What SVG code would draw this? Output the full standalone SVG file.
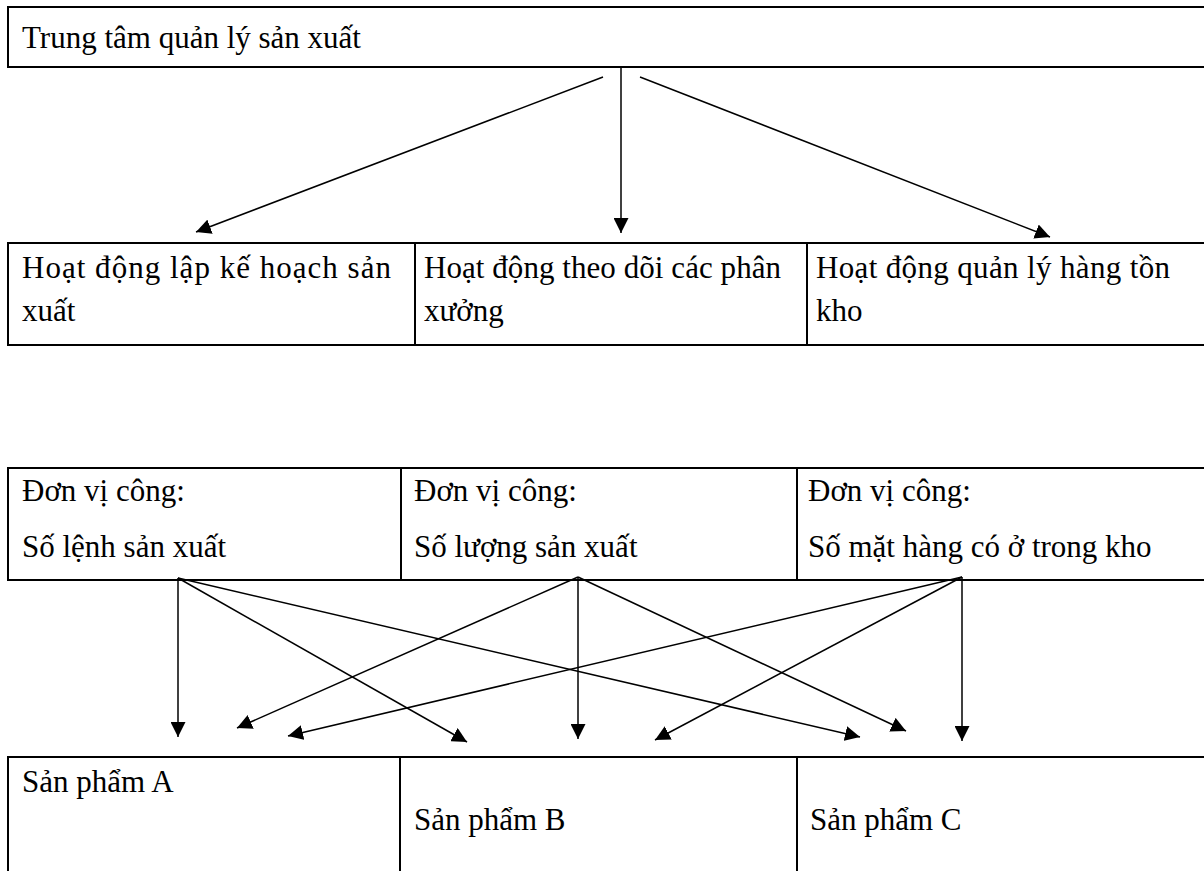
<svg xmlns="http://www.w3.org/2000/svg" width="1204" height="871" viewBox="0 0 1204 871">
<style>
.box{fill:#fff;stroke:#000;stroke-width:2}
.div{stroke:#000;stroke-width:2}
.t{font-family:"Liberation Serif","Times New Roman",serif;font-size:31px;fill:#000}
.c{stroke:#000;stroke-width:1.5;fill:none;marker-end:url(#ah)}
</style>
<defs>
<marker id="ah" viewBox="0 0 15 15" refX="15" refY="7.5" markerWidth="15" markerHeight="15" markerUnits="userSpaceOnUse" orient="auto">
<path d="M0,0 L15,7.5 L0,15 z" fill="#000"/>
</marker>
</defs>
<rect width="1204" height="871" fill="#fff"/>
<g id="center">
<rect class="box" x="8" y="7" width="1210" height="60"/>
<text class="t" x="22" y="48">Trung tâm quản lý sản xuất</text>
</g>
<g id="activities">
<rect class="box" x="8" y="243" width="1210" height="102"/>
<line class="div" x1="415" y1="243" x2="415" y2="345"/>
<line class="div" x1="807" y1="243" x2="807" y2="345"/>
<g id="act1">
<text class="t" x="22" y="278" textLength="369" lengthAdjust="spacing">Hoạt động lập kế hoạch sản</text>
<text class="t" x="22" y="321">xuất</text>
</g>
<g id="act2">
<text class="t" x="424" y="278" textLength="357" lengthAdjust="spacing">Hoạt động theo dõi các phân</text>
<text class="t" x="424" y="321">xưởng</text>
</g>
<g id="act3">
<text class="t" x="816" y="278" textLength="354" lengthAdjust="spacing">Hoạt động quản lý hàng tồn</text>
<text class="t" x="816" y="321">kho</text>
</g>
</g>
<g id="units">
<rect class="box" x="8" y="468" width="1210" height="112"/>
<line class="div" x1="401" y1="468" x2="401" y2="580"/>
<line class="div" x1="797" y1="468" x2="797" y2="580"/>
<g id="unit1">
<text class="t" x="22" y="501">Đơn vị công:</text>
<text class="t" x="22" y="557">Số lệnh sản xuất</text>
</g>
<g id="unit2">
<text class="t" x="414" y="501">Đơn vị công:</text>
<text class="t" x="414" y="557">Số lượng sản xuất</text>
</g>
<g id="unit3">
<text class="t" x="808" y="501">Đơn vị công:</text>
<text class="t" x="808" y="557">Số mặt hàng có ở trong kho</text>
</g>
</g>
<g id="products">
<rect class="box" x="8" y="757" width="1210" height="200"/>
<line class="div" x1="400" y1="757" x2="400" y2="871"/>
<line class="div" x1="797" y1="757" x2="797" y2="871"/>
<g id="prodA"><text class="t" x="22" y="792">Sản phẩm A</text></g>
<g id="prodB"><text class="t" x="414" y="830">Sản phẩm B</text></g>
<g id="prodC"><text class="t" x="810" y="830">Sản phẩm C</text></g>
</g>
<g id="connectors">
<line class="c" x1="603" y1="77" x2="196" y2="232"/>
<line class="c" x1="621" y1="68" x2="621" y2="233"/>
<line class="c" x1="640" y1="77" x2="1050" y2="237"/>
<line class="c" x1="178" y1="578" x2="178" y2="737"/>
<line class="c" x1="178" y1="578" x2="467" y2="742"/>
<line class="c" x1="178" y1="578" x2="860" y2="737"/>
<line class="c" x1="578" y1="577" x2="237" y2="728"/>
<line class="c" x1="578" y1="577" x2="578" y2="739"/>
<line class="c" x1="578" y1="577" x2="906" y2="731"/>
<line class="c" x1="962" y1="577" x2="288" y2="736"/>
<line class="c" x1="962" y1="577" x2="655" y2="740"/>
<line class="c" x1="962" y1="577" x2="962" y2="741"/>
</g>
</svg>
